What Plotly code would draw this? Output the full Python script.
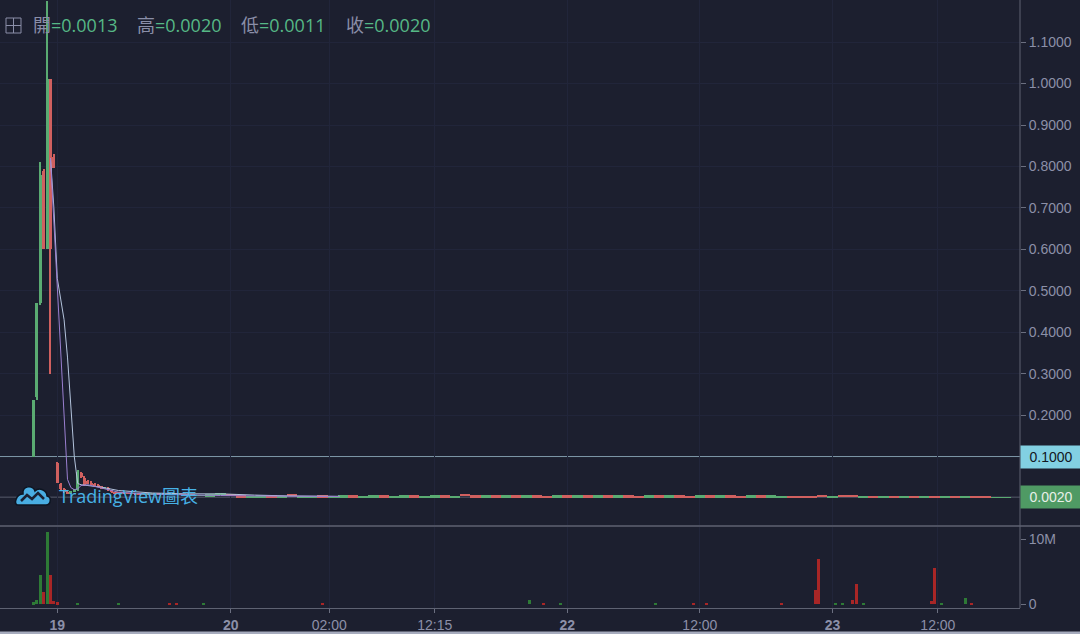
import plotly.graph_objects as go

# ---------------- data ----------------
# spike candles (one index step per bar)
spike_idx = list(range(24))
spike_open = [0.100, 0.244, 0.470, 0.790, 0.600, 1.010, 0.823, 0.084, 0.034, 0.022, 0.014, 0.012,
              0.016, 0.020, 0.060, 0.048, 0.040, 0.037, 0.033, 0.031, 0.028, 0.022, 0.025, 0.019]
spike_high = [0.237, 0.250, 0.811, 0.795, 1.200, 1.010, 0.830, 0.087, 0.036, 0.024, 0.016, 0.018,
              0.022, 0.068, 0.062, 0.052, 0.044, 0.040, 0.035, 0.033, 0.030, 0.026, 0.026, 0.020]
spike_low = [0.099, 0.236, 0.465, 0.600, 0.600, 0.300, 0.797, 0.036, 0.020, 0.012, 0.010, 0.011,
             0.015, 0.018, 0.048, 0.030, 0.034, 0.031, 0.028, 0.026, 0.023, 0.021, 0.018, 0.013]
spike_close = [0.236, 0.470, 0.779, 0.600, 1.010, 0.600, 0.797, 0.036, 0.022, 0.014, 0.012, 0.016,
               0.020, 0.063, 0.050, 0.031, 0.036, 0.033, 0.030, 0.027, 0.024, 0.025, 0.019, 0.014]

# flat period candles (grouped, three index steps each)
flat_idx = [25, 28, 31, 34, 37, 40, 43, 46, 49, 52, 55, 58, 61, 64, 67, 70, 73, 76, 79, 82, 85, 88,
            91, 94, 97, 100, 103, 106, 109, 112, 115, 118, 121, 124, 127, 130, 133, 136, 139, 142,
            145, 148, 151, 154, 157, 160, 163, 166, 169, 172, 175, 178, 181, 184, 187, 190, 193, 196,
            199, 202, 205, 208, 211, 214, 217, 220, 223, 226, 229, 232, 235, 238, 241, 244, 247, 250,
            253, 256, 259, 262, 265, 268, 271, 274, 277, 280, 283, 286]
flat_open = [0.0140, 0.0120, 0.0110, 0.0090, 0.0105, 0.0080, 0.0090, 0.0075, 0.0060,
             0.0045, 0.0085, 0.0100,
             0.0065, 0.0005, 0.0010, 0.0060, 0.0005, 0.0095, 0.0005,
             0.0005, 0.0060, 0.0005, 0.0010, 0.0060, 0.0005, 0.0010, 0.0060, 0.0005, 0.0010, 0.0060,
             0.0005, 0.0010, 0.0060, 0.0005, 0.0090, 0.0065,
             0.0005, 0.0060, 0.0008, 0.0062, 0.0005, 0.0060, 0.0058, 0.0005, 0.0062, 0.0008,
             0.0060, 0.0005, 0.0062, 0.0008, 0.0060, 0.0058, 0.0005, 0.0062, 0.0005, 0.0060,
             0.0058, 0.0008, 0.0060, 0.0005, 0.0062, 0.0058, 0.0005, 0.0060, 0.0008,
             0.0010, 0.0045, 0.0050, 0.0045, 0.0075, 0.0010, 0.0065, 0.0075,
             0.0010, 0.0040, 0.0010, 0.0038, 0.0010, 0.0040, 0.0010, 0.0038, 0.0010, 0.0040,
             0.0010, 0.0038, 0.0030, 0.0012, 0.0013]
flat_close = [0.0120, 0.0110, 0.0090, 0.0105, 0.0080, 0.0090, 0.0075, 0.0060, 0.0068,
              0.0085, 0.0100, 0.0065,
              0.0020, 0.0055, 0.0060, 0.0005, 0.0055, 0.0055, 0.0055,
              0.0055, 0.0005, 0.0055, 0.0060, 0.0005, 0.0055, 0.0060, 0.0005, 0.0055, 0.0060, 0.0005,
              0.0055, 0.0060, 0.0005, 0.0055, 0.0055, 0.0020,
              0.0060, 0.0005, 0.0062, 0.0008, 0.0060, 0.0005, 0.0008, 0.0062, 0.0005, 0.0060,
              0.0005, 0.0062, 0.0008, 0.0060, 0.0005, 0.0005, 0.0062, 0.0005, 0.0060, 0.0005,
              0.0008, 0.0060, 0.0005, 0.0062, 0.0005, 0.0008, 0.0060, 0.0005, 0.0060,
              0.0045, 0.0010, 0.0015, 0.0010, 0.0030, 0.0045, 0.0025, 0.0030,
              0.0040, 0.0010, 0.0038, 0.0010, 0.0040, 0.0010, 0.0038, 0.0010, 0.0040, 0.0010,
              0.0038, 0.0010, 0.0011, 0.0020, 0.0020]

# moving averages
ma_idx = [5, 6, 7, 8, 9, 10, 11, 12, 13, 14, 16, 20, 25, 35, 45, 55, 65, 75, 90]
ma_fast = [0.82, 0.66, 0.50, 0.34, 0.18, 0.045, 0.025, 0.020, 0.022, 0.030, 0.032, 0.024, 0.014,
           0.009, 0.007, 0.006, 0.005, 0.004, 0.0035]
ma_slow = [0.82, 0.70, 0.53, 0.48, 0.43, 0.34, 0.22, 0.10, 0.035, 0.032, 0.030, 0.026, 0.018,
           0.012, 0.010, 0.010, 0.007, 0.005, 0.004]

# volume (millions)
vol_idx = [0, 1, 2, 3, 4, 5, 6, 7, 13, 25, 40, 42, 50, 85, 146, 150, 155, 183, 194, 198, 220,
           230, 231, 236, 238, 241, 242, 244, 264, 265, 267, 274, 276]
vol_m = [0.3, 0.6, 4.4, 1.9, 11.1, 4.4, 0.5, 0.3, 0.2, 0.15, 0.1, 0.15, 0.2, 0.1, 0.6, 0.15, 0.15,
         0.15, 0.15, 0.1, 0.15, 2.2, 6.9, 0.2, 0.2, 0.6, 3.1, 0.2, 0.5, 5.6, 0.15, 1.0, 0.2]
vol_up = [1, 1, 1, 0, 1, 0, 0, 0, 1, 1, 0, 0, 1, 0, 1, 0, 1, 1, 0, 0, 0,
          0, 0, 1, 1, 0, 0, 1, 0, 0, 1, 1, 0]

tick_idx = [7, 58, 87, 118, 157, 196, 235, 266]
tick_text = ["<b>19</b>", "<b>20</b>", "02:00", "12:15", "<b>22</b>", "12:00", "<b>23</b>", "12:00"]

price_ticks = [0.2, 0.3, 0.4, 0.5, 0.6, 0.7, 0.8, 0.9, 1.0, 1.1]
vol_ticks = [0, 10]
vol_tick_text = ["0", "10M"]

legend_labels = ["開", "高", "低", "收"]
legend_values = ["0.0013", "0.0020", "0.0011", "0.0020"]
alert_level = 0.1
last_price = 0.002

# ---------------- style ----------------
BG = "#1c1f2f"
GREEN = "#5aab72"
RED = "#d0605f"
VGREEN = "#2e7a36"
VRED = "#a82626"
AXC = "#8c90a8"
LINEC = "#5e6272"
GRID = "#21253a"
FONT_AX = "Liberation Sans, Arial, sans-serif"
FONT_TXT = "Open Sans, Noto Sans CJK TC, sans-serif"

PLOT_H = 608.0


def py(pix):
    return (PLOT_H - pix) / PLOT_H


def cols(o, c):
    return [GREEN if cc >= oo else RED for oo, cc in zip(o, c)]


fig = go.Figure()

# moving averages (under candles)
fig.add_trace(go.Scatter(x=ma_idx, y=ma_slow, mode="lines", line=dict(color="#b3c3dc", width=1),
                         hoverinfo="skip"))
fig.add_trace(go.Scatter(x=ma_idx, y=ma_fast, mode="lines", line=dict(color="#9a7fd0", width=1),
                         hoverinfo="skip"))

sc = cols(spike_open, spike_close)
# wicks
fig.add_trace(go.Bar(x=spike_idx, base=spike_low, y=[h - l for h, l in zip(spike_high, spike_low)],
                     width=0.3, marker=dict(color=sc, line=dict(width=0)), hoverinfo="skip"))
# bodies
fig.add_trace(go.Bar(x=spike_idx, base=[min(o, c) for o, c in zip(spike_open, spike_close)],
                     y=[max(abs(c - o), 0.003) for o, c in zip(spike_open, spike_close)],
                     width=0.9, marker=dict(color=sc, line=dict(width=0)), hoverinfo="skip"))
# flat period bodies
fig.add_trace(go.Bar(x=flat_idx, base=[min(o, c) for o, c in zip(flat_open, flat_close)],
                     y=[abs(c - o) for o, c in zip(flat_open, flat_close)],
                     width=3, marker=dict(color=cols(flat_open, flat_close), line=dict(width=0)),
                     hoverinfo="skip"))
# volume
fig.add_trace(go.Bar(x=vol_idx, y=vol_m, yaxis="y2", width=0.88,
                     marker=dict(color=[VGREEN if u else VRED for u in vol_up], line=dict(width=0)),
                     hoverinfo="skip"))

shapes = []
# alert line and last price line
shapes.append(dict(type="line", xref="paper", yref="y", x0=0, x1=1, y0=alert_level, y1=alert_level,
                   line=dict(color="#7f98aa", width=1), layer="below"))
shapes.append(dict(type="line", xref="paper", yref="y", x0=0, x1=1, y0=last_price, y1=last_price,
                   line=dict(color="#565a6c", width=1), layer="below"))
# pane separator
shapes.append(dict(type="line", xref="paper", yref="paper", x0=0, x1=1080 / 1020, y0=py(526), y1=py(526),
                   line=dict(color=LINEC, width=1.5)))
# right axis line
shapes.append(dict(type="line", xref="paper", yref="paper", x0=1, x1=1, y0=0, y1=1,
                   line=dict(color=LINEC, width=1)))
# bottom light edge
shapes.append(dict(type="rect", xref="paper", yref="paper", x0=0, x1=1080 / 1020, y0=py(634), y1=py(631.5),
                   fillcolor="#a6abbd", line=dict(width=0)))
# legend icon
shapes.append(dict(type="rect", xref="paper", yref="paper", x0=6 / 1020, x1=21 / 1020, y0=py(33), y1=py(18),
                   line=dict(color="#8a8ea8", width=1)))
shapes.append(dict(type="line", xref="paper", yref="paper", x0=13.5 / 1020, x1=13.5 / 1020, y0=py(33), y1=py(18),
                   line=dict(color="#8a8ea8", width=1)))
shapes.append(dict(type="line", xref="paper", yref="paper", x0=6 / 1020, x1=21 / 1020, y0=py(25.5), y1=py(25.5),
                   line=dict(color="#8a8ea8", width=1)))
# watermark cloud logo
shapes.append(dict(type="path", xref="paper", yref="paper", xsizemode="pixel", ysizemode="pixel",
                   xanchor=33 / 1020, yanchor=py(496),
                   path="M -15,-9 L 13,-9 C 18,-9 19,-1 14,0 C 14,6 6,9 2,5 C 0,11 -11,11 -10,2 "
                        "C -17,2 -20,-9 -15,-9 Z",
                   fillcolor="#49ade2", line=dict(color="#0e1522", width=1.5)))
shapes.append(dict(type="path", xref="paper", yref="paper", xsizemode="pixel", ysizemode="pixel",
                   xanchor=33 / 1020, yanchor=py(496),
                   path="M -12,-5 L -6,1 L -1,-3 L 5,3 L 11,-3",
                   line=dict(color="#1a2235", width=2.5)))

annotations = []
leg_x = [31, 135, 239, 344]
for lx, lab, val in zip(leg_x, legend_labels, legend_values):
    annotations.append(dict(xref="paper", yref="paper", x=lx / 1020, y=py(25), xanchor="left",
                            yanchor="middle", showarrow=False,
                            text=f"<span style='color:#8a8ea8'>{lab}</span>"
                                 f"<span style='color:#56b886'>={val}</span>",
                            font=dict(size=18, family=FONT_TXT)))
annotations.append(dict(xref="paper", yref="paper", x=57 / 1020, y=py(496), xanchor="left", yanchor="middle",
                        showarrow=False, text="TradingView圖表",
                        font=dict(size=18, color="#47b2e6", family=FONT_TXT)))
annotations.append(dict(xref="paper", yref="y", x=1, y=alert_level, xanchor="left", yanchor="middle",
                        showarrow=False, text=f"{alert_level:.4f}", bgcolor="#82d0e2",
                        width=58, height=20, borderpad=1, align="center",
                        font=dict(size=14, color="#131722", family=FONT_AX)))
annotations.append(dict(xref="paper", yref="y", x=1, y=last_price, xanchor="left", yanchor="middle",
                        showarrow=False, text=f"{last_price:.4f}", bgcolor="#4f9a64",
                        width=58, height=20, borderpad=1, align="center",
                        font=dict(size=14, color="#e8efe9", family=FONT_AX)))

fig.update_layout(
    width=1080, height=634,
    margin=dict(l=0, r=60, t=0, b=26, autoexpand=False),
    paper_bgcolor=BG, plot_bgcolor=BG,
    showlegend=False, barmode="overlay", bargap=0,
    shapes=shapes, annotations=annotations,
    xaxis=dict(range=[-9.85, 290.15], anchor="y2", tickvals=tick_idx, ticktext=tick_text,
               tickfont=dict(size=14, color=AXC, family=FONT_AX), ticks="outside", ticklen=4,
               tickcolor="#6b6f80", showline=True, linecolor=LINEC, linewidth=1,
               showgrid=True, gridcolor=GRID, zeroline=False, fixedrange=True),
    yaxis=dict(domain=[py(525), 1], range=[-0.0652, 1.2017], side="right", anchor="x",
               tickvals=price_ticks, ticktext=[f"{v:.4f}" for v in price_ticks],
               tickfont=dict(size=14, color=AXC, family=FONT_AX), ticks="outside", ticklen=5,
               tickcolor="#6b6f80", showline=False, showgrid=True, gridcolor=GRID, zeroline=False),
    yaxis2=dict(domain=[0, py(527)], range=[-0.6, 11.85], side="right", anchor="x",
                tickvals=vol_ticks, ticktext=vol_tick_text,
                tickfont=dict(size=14, color=AXC, family=FONT_AX), ticks="outside", ticklen=5,
                tickcolor="#6b6f80", showline=False, showgrid=False, zeroline=False),
)

post = ("document.body.style.margin='0';document.body.style.padding='0';"
        "document.body.style.overflow='hidden';document.body.style.background='#1c1f2f';")
fig.write_html("out.html", post_script=post, config={"displayModeBar": False})
